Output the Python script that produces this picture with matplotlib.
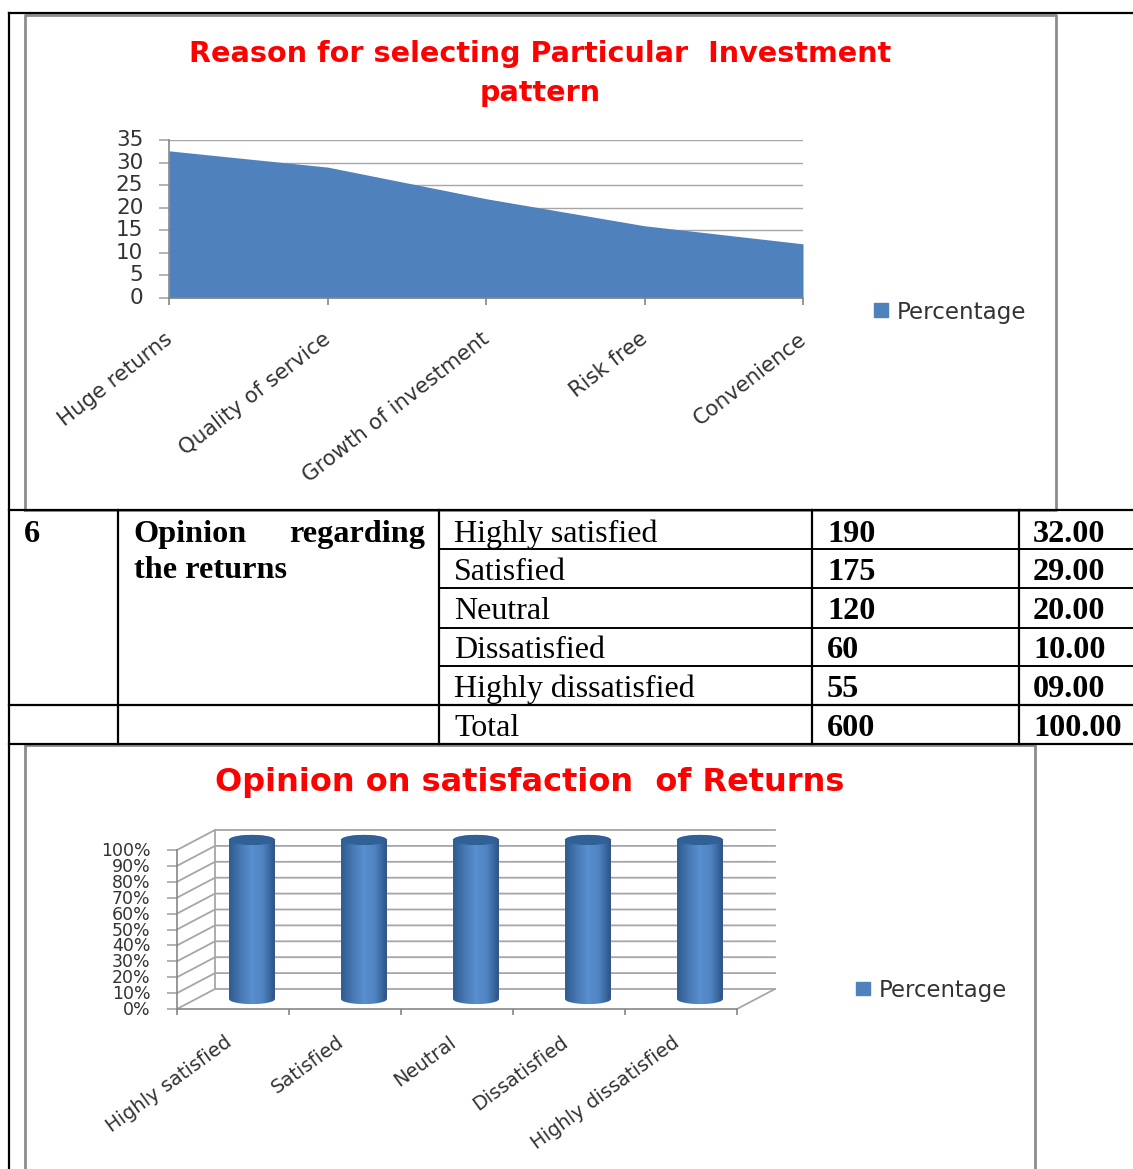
import numpy as np
import matplotlib
matplotlib.use('Agg')
import matplotlib.pyplot as plt
from matplotlib.colors import LinearSegmentedColormap
from matplotlib.patches import Patch, Polygon
from matplotlib.transforms import ScaledTranslation

W, H = 1133, 1169

# chart 1
reasons = ['Huge returns', 'Quality of service', 'Growth of investment', 'Risk free', 'Convenience']
reason_pct = [32.6, 29, 22, 16, 12]
# chart 2 (100% stacked, one series, so every column is full)
opinions = ['Highly satisfied', 'Satisfied', 'Neutral', 'Dissatisfied', 'Highly dissatisfied']
opinion_share = [100, 100, 100, 100, 100]
# table
table_rows = ['Highly satisfied', 'Satisfied', 'Neutral', 'Dissatisfied', 'Highly dissatisfied', 'Total']
table_counts = ['190', '175', '120', '60', '55', '600']
table_pct = ['32.00', '29.00', '20.00', '10.00', '09.00', '100.00']
row_baselines = [542, 580, 619, 658, 697, 736]

GRID = '#a6a6a6'
AXIS = '#868686'
BLUE = '#4f81bd'
TXT = '#333333'
SANS = 'DejaVu Sans'
SERIF = 'Liberation Serif'

fig = plt.figure(figsize=(W / 100, H / 100), dpi=100)


# axes from pixel box, y counted from the top of the image
def px_axes(x0, y_top, x1, y_bot, **kw):
    return fig.add_axes([x0 / W, 1 - y_bot / H, (x1 - x0) / W, (y_bot - y_top) / H], **kw)


# nudge tick labels by a few pixels (y positive is up)
def shift_labels(labels, dx_px, dy_px):
    off = ScaledTranslation(dx_px / 100, dy_px / 100, fig.dpi_scale_trans)
    for lab in labels:
        lab.set_transform(lab.get_transform() + off)


def pct_legend(ax, x_px, y_px, size):
    ax.legend(handles=[Patch(color=BLUE, label='Percentage')], loc='center left',
              bbox_to_anchor=(x_px / W, 1 - y_px / H), bbox_transform=fig.transFigure, frameon=False,
              fontsize=size, labelcolor=TXT, handlelength=0.62, handleheight=0.55,
              handletextpad=0.38, borderpad=0, borderaxespad=0)


page = px_axes(0, 0, W, H)
page.set_xlim(0, W)
page.set_ylim(H, 0)
page.axis('off')

# chart frames
page.plot([25, 25, 1056, 1056, 25], [510, 15, 15, 510, 510], color='#8c8c8c', lw=2)
page.plot([25, 25, 1035, 1035], [H + 5, 745, 745, H + 5], color='#8c8c8c', lw=2)

# table rules
for y in [13, 510, 705, 744]:
    page.plot([9, W], [y, y], color='black', lw=1.6)
for y in [549, 588, 628, 666]:
    page.plot([439, W], [y, y], color='black', lw=1.4)
page.plot([9, 9], [13, H], color='black', lw=1.6)
for x in [118, 439, 812, 1019]:
    page.plot([x, x], [510, 744], color='black', lw=1.6)

page.text(24, 542, '6', family=SERIF, weight='bold', fontsize=23.2, va='baseline')
page.text(133, 542, 'Opinion', family=SERIF, weight='bold', fontsize=23.2, va='baseline')
page.text(425, 542, 'regarding', family=SERIF, weight='bold', fontsize=23.2, va='baseline', ha='right')
page.text(134, 578, 'the returns', family=SERIF, weight='bold', fontsize=23.2, va='baseline')
for name, n, p, y in zip(table_rows, table_counts, table_pct, row_baselines):
    page.text(454, y, name, family=SERIF, fontsize=23, va='baseline')
    page.text(827, y, n, family=SERIF, weight='bold', fontsize=23.2, va='baseline')
    page.text(1033, y, p, family=SERIF, weight='bold', fontsize=23.2, va='baseline')

# titles
page.text(540, 54, 'Reason for selecting Particular  Investment', color='#ff0000', family=SANS,
          weight='bold', fontsize=20.6, ha='center', va='center')
page.text(540, 93, 'pattern', color='#ff0000', family=SANS, weight='bold', fontsize=20.6,
          ha='center', va='center')
page.text(530, 782, 'Opinion on satisfaction  of Returns', color='#ff0000', family=SANS,
          weight='bold', fontsize=23, ha='center', va='center')

# area chart
ax1 = px_axes(169, 140, 803, 298)
ax1.fill_between(range(len(reasons)), reason_pct, color=BLUE, lw=0, zorder=2)
ax1.set_xlim(0, len(reasons) - 1)
ax1.set_ylim(0, 35)
ax1.set_yticks(range(0, 36, 5))
ax1.yaxis.grid(True, color=GRID, lw=1.0, zorder=1)
ax1.set_axisbelow(True)
ax1.set_xticks(range(len(reasons)))
ax1.set_xticklabels(reasons, rotation=38, ha='right', va='top', rotation_mode='anchor',
                    fontsize=15.3, color=TXT, family=SANS)
ax1.tick_params(axis='x', length=5, color=AXIS, width=1.2, pad=17)
ax1.tick_params(axis='y', length=7, color=GRID, width=1.2, labelsize=15.5, labelcolor=TXT, pad=11.5)
shift_labels(ax1.get_xticklabels(), -5, 0)
shift_labels(ax1.get_yticklabels(), 0, 2)
for s in ['top', 'right']:
    ax1.spines[s].set_visible(False)
for s in ['left', 'bottom']:
    ax1.spines[s].set_color(AXIS)
    ax1.spines[s].set_linewidth(1.2)
pct_legend(ax1, 874, 312, 16.6)

# pseudo 3d cylinder chart
ax2 = px_axes(177, 850, 737, 1009)
ax2.set_xlim(0, len(opinions))
ax2.set_ylim(0, 100)
dx = 38 / 112  # depth of the box, in category units
dy = 20 / 159 * 100  # same, in percent
yt = np.arange(0, 101, 10)
for v in yt:
    ax2.plot([0, dx, len(opinions) + dx], [v, v + dy, v + dy], color=GRID, lw=1.3,
             clip_on=False, zorder=1)
ax2.plot([dx, dx], [dy, 100 + dy], color=GRID, lw=1.3, clip_on=False, zorder=1)
ax2.plot([len(opinions), len(opinions) + dx], [0, dy], color=GRID, lw=1.3, clip_on=False, zorder=1)

cyl = LinearSegmentedColormap.from_list('cyl', ['#2f5b8f', '#4678b4', '#5a8fd0', '#4f82c0', '#2c5485'])
half_w = 0.205
t = np.linspace(0, np.pi, 40)
for i, val in enumerate(opinion_share):
    cx = i + 0.5 + dx / 2
    base = dy / 2
    ex = half_w * np.cos(t)
    ey = 3.2 * np.sin(t)
    outline = np.r_[np.c_[cx + ex, base + val + ey], np.c_[cx - ex, base - ey]]
    body = Polygon(outline, closed=True, fc='none', ec='none', clip_on=False)
    ax2.add_patch(body)
    im = ax2.imshow(np.linspace(0, 1, 64)[None, :], cmap=cyl, aspect='auto', zorder=3,
                    extent=[cx - half_w, cx + half_w, base - 5, base + val + 5])
    im.set_clip_box(fig.bbox)
    im.set_clip_path(body)
    top = np.r_[np.c_[cx + ex, base + val + ey], np.c_[cx - ex, base + val - ey]]
    ax2.add_patch(Polygon(top, closed=True, fc='#2f6096', ec='none', zorder=4, clip_on=False))
ax2.set_xlim(0, len(opinions))
ax2.set_ylim(0, 100)
ax2.patch.set_visible(False)

ax2.set_yticks(yt)
ax2.set_yticklabels([f'{v}%' for v in yt])
ax2.set_xticks(range(len(opinions) + 1))
ax2.set_xticklabels([])
ax2.set_xticks(np.arange(len(opinions)) + 0.5, minor=True)
ax2.set_xticklabels(opinions, minor=True, rotation=36, ha='right', va='top', rotation_mode='anchor',
                    fontsize=14, color=TXT, family=SANS)
ax2.tick_params(axis='x', which='major', length=4, color=AXIS, width=1.2)
ax2.tick_params(axis='x', which='minor', length=0, pad=17)
ax2.tick_params(axis='y', length=7, color=GRID, width=1.2, labelsize=12.5, labelcolor=TXT, pad=12)
shift_labels(ax2.get_xticklabels(minor=True), -9, 0)
shift_labels(ax2.get_yticklabels(), 0, 1)
for s in ['top', 'right', 'left']:
    ax2.spines[s].set_visible(False)
ax2.spines['bottom'].set_color(AXIS)
ax2.spines['bottom'].set_linewidth(1.2)
ax2.plot([0, 0], [0, 100], color=AXIS, lw=1.2, clip_on=False, zorder=2)
pct_legend(ax2, 856, 990, 16.4)

fig.savefig('out.png', dpi=100)
